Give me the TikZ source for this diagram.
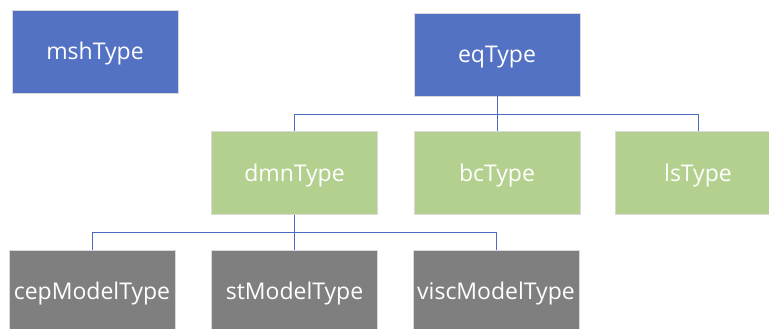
\documentclass[tikz,border=0pt]{standalone}
\usepackage{fontspec}
\setmainfont{Open Sans}
\definecolor{bluebox}{HTML}{5472C4}
\definecolor{greenbox}{HTML}{B3D08F}
\definecolor{graybox}{HTML}{7F7F7F}
\definecolor{linkblue}{HTML}{4A6BBF}
\begin{document}
\begin{tikzpicture}[x=1pt,y=-1pt,
  box/.style={rectangle, draw=white!85!black, line width=0.6pt, minimum width=166pt, minimum height=83pt, inner sep=0pt, text=white, font=\fontsize{23}{27}\selectfont, text height=20pt, text depth=4pt},
  bluenode/.style={box, fill=bluebox},
  greennode/.style={box, fill=greenbox},
  graynode/.style={box, fill=graybox},
  link/.style={draw=linkblue, line width=0.9pt}]
\useasboundingbox (0,0) rectangle (769,329);
\node[bluenode] (msh) at (95,51.5) {mshType};
\node[bluenode] (eq) at (497,54.5) {eqType};
\node[greennode] (dmn) at (294.5,173) {dmnType};
\node[greennode] (bc) at (497,173) {bcType};
\node[greennode] (ls) at (698,173) {lsType};
\node[graynode] (cep) at (92,291.5) {cepModelType};
\node[graynode] (st) at (294.5,291.5) {stModelType};
\node[graynode] (visc) at (496,291.5) {viscModelType};
\coordinate (j1) at (497,114);
\coordinate (j2) at (294.5,232);
\draw[link] (eq.south) -- (bc.north);
\draw[link] (j1) -| (dmn.north);
\draw[link] (j1) -| (ls.north);
\draw[link] (dmn.south) -- (st.north);
\draw[link] (j2) -| (cep.north);
\draw[link] (j2) -| (visc.north);
\end{tikzpicture}
\end{document}
